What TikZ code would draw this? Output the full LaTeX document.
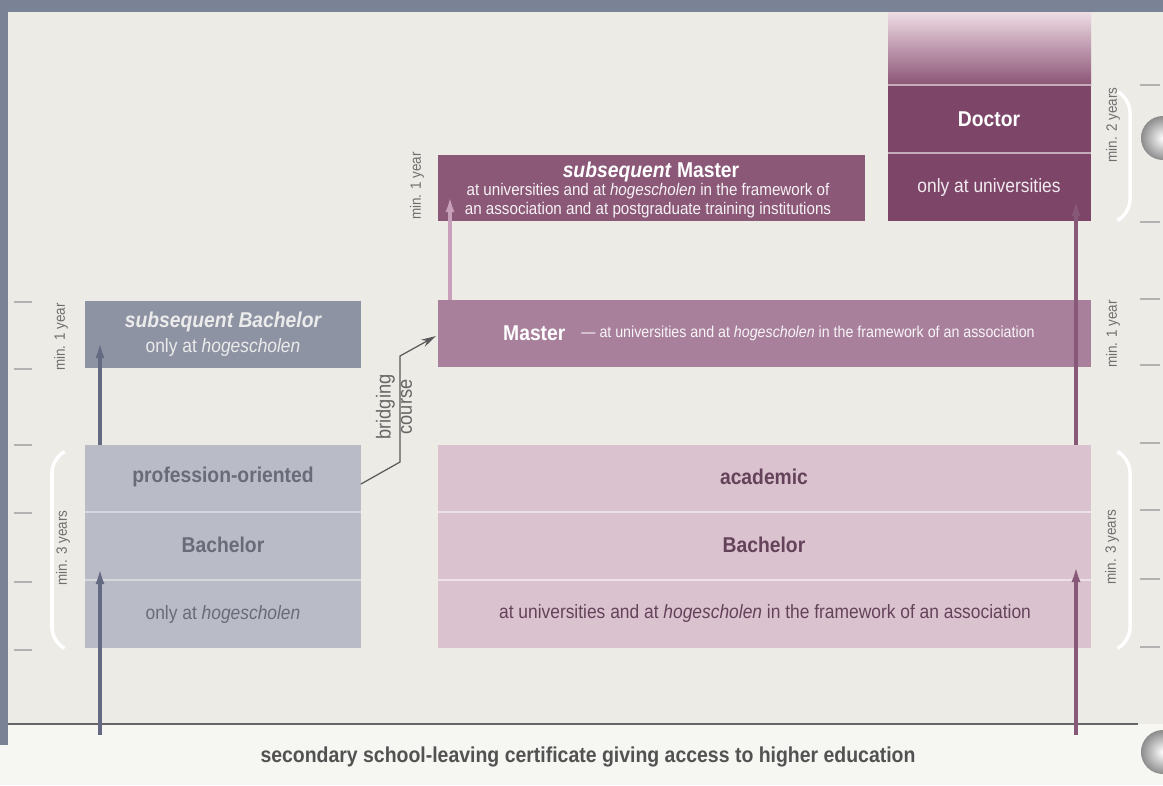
\documentclass[tikz,border=0pt]{standalone}
\usepackage{fontspec}
\setmainfont{Liberation Sans}[FakeStretch=0.9]
\usetikzlibrary{arrows.meta, positioning, calc}
\definecolor{frameblue}{RGB}{122,130,150}
\definecolor{panel}{RGB}{236,235,230}
\definecolor{lowpanel}{RGB}{246,246,243}
\definecolor{subbachgrey}{RGB}{142,147,163}
\definecolor{profgrey}{RGB}{185,188,199}
\definecolor{proftext}{RGB}{105,108,120}
\definecolor{mastermauve}{RGB}{168,128,156}
\definecolor{submastermauve}{RGB}{139,88,120}
\definecolor{doctormauve}{RGB}{125,70,105}
\definecolor{acapink}{RGB}{218,195,206}
\definecolor{acatext}{RGB}{100,66,90}
\definecolor{arrowblue}{RGB}{100,106,130}
\definecolor{arrowmauve}{RGB}{135,88,120}
\definecolor{arrowpale}{RGB}{200,160,185}
\definecolor{notegrey}{RGB}{110,110,110}

\begin{document}
\begin{tikzpicture}[x=0.02cm, y=-0.02cm,
  plate/.style={inner sep=0pt, outer sep=0pt, anchor=north west},
  title/.style={font=\fontsize{12.2}{14}\selectfont\bfseries},
  plain/.style={font=\fontsize{11}{13}\selectfont},
  small/.style={font=\fontsize{9.6}{10.8}\selectfont},
  tiny/.style={font=\fontsize{9}{10}\selectfont},
  sidenote/.style={font=\fontsize{8.5}{10}\selectfont, text=notegrey, rotate=90},
  divider/.style={line width=1pt},
  bracket/.style={draw=white, line width=2pt, rounded corners=8pt},
  hole/.style={inner color=white, outer color=black!45},
  uparrow/.style={line width=1.8pt, -{Latex[length=0.32cm, width=0.18cm]}},
  bridgearrow/.style={draw=black!65, line width=0.7pt, -{Stealth[length=0.3cm, width=0.16cm]}}]
  \useasboundingbox (0,0) rectangle (1163,785);

  % frame and panel
  \fill[lowpanel] (0,0) rectangle (1163,785);
  \fill[panel] (8,12) rectangle (1163,724);
  \fill[frameblue] (0,0) rectangle (1163,12);
  \fill[frameblue] (0,0) rectangle (8,745);
  \draw[black!60, line width=1.5pt] (8,724) -- (1138,724);
  \shade[hole] (1163,138) circle (22);
  \shade[hole] (1163,752) circle (22);

  % scale ticks
  \foreach \y in {302,369,445,513,582,650}
    \draw[black!30, line width=0.8pt] (14,\y) -- (32,\y);
  \foreach \y in {85,222,299,365,443,510,579,647}
    \draw[black!30, line width=0.8pt] (1140,\y) -- (1160,\y);

  % white brackets
  \draw[bracket] (64,452) -- (52,458) -- (52,642) -- (64,648);
  \draw[bracket] (1118,452) -- (1130,458) -- (1130,642) -- (1118,648);
  \draw[bracket] (1118,92) -- (1130,98) -- (1130,214) -- (1118,220);

  % ---- profession-oriented ----
  \node[plate, fill=subbachgrey, minimum width=5.52cm, minimum height=1.34cm]
    (subbach) at (85,301) {};
  \node[title, text=white!92!black] at (223,322) {\itshape subsequent Bachelor};
  \node[plain, text=white!92!black] at (223,347) {only at \textit{hogescholen}};

  \node[plate, fill=profgrey, minimum width=5.52cm, minimum height=4.06cm]
    (profbach) at (85,445) {};
  \draw[divider, profgrey!60!white] (85,512) -- (361,512);
  \draw[divider, profgrey!60!white] (85,580) -- (361,580);
  \node[title, text=proftext] at (223,477) {profession-oriented};
  \node[title, text=proftext] at (223,545) {Bachelor};
  \node[plain, text=proftext] at (223,614) {only at \textit{hogescholen}};

  % ---- academic ----
  \node[plate, fill=acapink, minimum width=13.06cm, minimum height=4.06cm]
    (acabach) at (438,445) {};
  \draw[divider, acapink!50!white] (438,512) -- (1091,512);
  \draw[divider, acapink!50!white] (438,580) -- (1091,580);
  \node[title, text=acatext] at (764,477) {academic};
  \node[title, text=acatext] at (764,545) {Bachelor};
  \node[plain, text=acatext] at (765,613)
    {at universities and at \textit{hogescholen} in the framework of an association};

  \node[plate, fill=mastermauve, minimum width=13.06cm, minimum height=1.34cm]
    (master) at (438,300) {};
  \node[title, text=white, anchor=west] (mastertitle) at (497,333) {Master};
  \node[tiny, text=white!92!mastermauve, anchor=west, right=2pt of mastertitle.east]
    {--- at universities and at \textit{hogescholen} in the framework of an association};

  \node[plate, fill=submastermauve, minimum width=8.54cm, minimum height=1.32cm]
    (submaster) at (438,155) {};
  \node[title, text=white] at (651,172) {\textit{subsequent} Master};
  \node[small, text=white!92!submastermauve, align=center] at (648,201)
    {at universities and at \textit{hogescholen} in the framework of\\
     an association and at postgraduate training institutions};

  \node[plate, fill=doctormauve, minimum width=4.06cm, minimum height=4.18cm]
    (doctor) at (888,12) {};
  \shade[top color={rgb,255:red,238;green,220;blue,228},
         bottom color={rgb,255:red,140;green,84;blue,118}] (888,12) rectangle (1091,85);
  \draw[divider, doctormauve!45!white] (888,85) -- (1091,85);
  \draw[divider, doctormauve!45!white] (888,153) -- (1091,153);
  \node[title, text=white] at (989,119) {Doctor};
  \node[plain, text=white!90!doctormauve] at (989,187) {only at universities};

  % ---- durations ----
  \node[sidenote] at (61,337) {min. 1 year};
  \node[sidenote] at (63,548) {min. 3 years};
  \node[sidenote] at (417,186) {min. 1 year};
  \node[sidenote] at (1113,125) {min. 2 years};
  \node[sidenote] at (1113,334) {min. 1 year};
  \node[sidenote] at (1112,547) {min. 3 years};

  % ---- arrows ----
  \coordinate (certL) at (100,735);
  \coordinate (certR) at (1076,735);
  \coordinate (profin) at (100,568);
  \coordinate (acain) at (1076,566);
  \coordinate (subbachin) at (100,342);
  \coordinate (doctorin) at (1076,200);
  \coordinate (masterfoot) at (450,300);
  \coordinate (submasterin) at (450,196);
  \coordinate (profout) at (361,484);
  \coordinate (bendlow) at (400,462);
  \coordinate (bendhigh) at (400,356);
  \coordinate (masterin) at (436,336);
  \draw[uparrow, arrowblue] (certL) -- (profin);
  \draw[uparrow, arrowblue] (profbach.north west -| certL) -- (subbachin);
  \draw[uparrow, arrowmauve] (certR) -- (acain);
  \draw[uparrow, arrowmauve] (acabach.north -| certR) -- (doctorin);
  \draw[uparrow, arrowpale] (masterfoot) -- (submasterin);
  \draw[bridgearrow] (profout) -- (bendlow) -- (bendhigh) -- (masterin);
  \node[font=\fontsize{11.5}{12}\selectfont, text=black!60, rotate=90, align=center]
    at (394,407) {bridging\\course};

  % ---- entry ----
  \node[font=\fontsize{12.3}{14}\selectfont\bfseries, text=black!68] at (588,757)
    {secondary school-leaving certificate giving access to higher education};
\end{tikzpicture}
\end{document}
